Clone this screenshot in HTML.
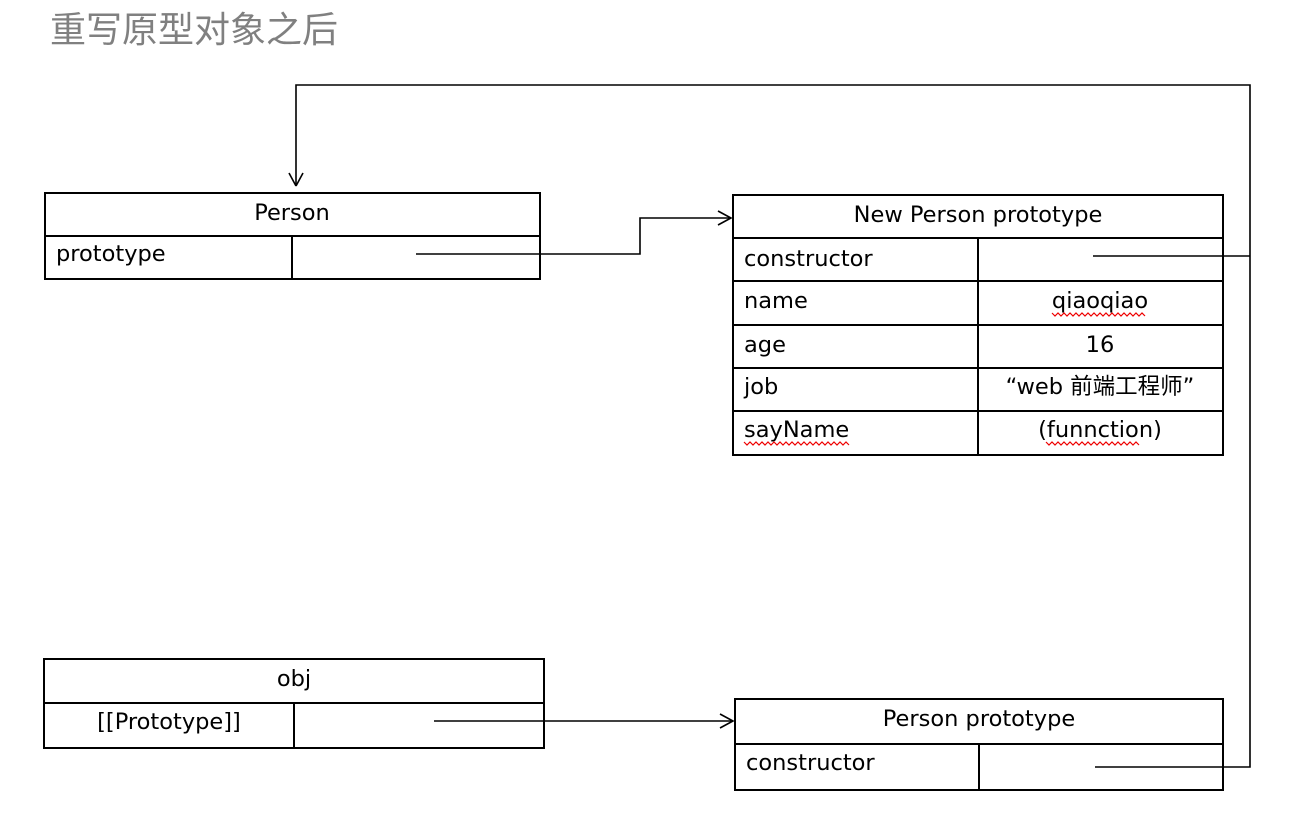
<!DOCTYPE html>
<html><head><meta charset="utf-8"><style>
html,body{margin:0;padding:0;background:#fff;width:1298px;height:820px;overflow:hidden}
svg{display:block}
text{font-family:"DejaVu Sans","Liberation Sans","Noto Sans CJK SC",sans-serif;font-size:22.5px;fill:#000}
.t{font-family:"Noto Sans CJK SC","WenQuanYi Zen Hei",sans-serif;font-size:36px;fill:#808080}
</style></head><body>
<svg width="1298" height="820" viewBox="0 0 1298 820" xmlns="http://www.w3.org/2000/svg">
<text class="t" x="50" y="42">重写原型对象之后</text>
<g fill="none" stroke="#000" stroke-width="2">
<rect x="45" y="193" width="495" height="86"/>
<line x1="45" y1="236" x2="540" y2="236"/>
<line x1="292" y1="236" x2="292" y2="279"/>
<rect x="733" y="195" width="490" height="260"/>
<line x1="733" y1="238" x2="1223" y2="238"/>
<line x1="733" y1="281" x2="1223" y2="281"/>
<line x1="733" y1="325" x2="1223" y2="325"/>
<line x1="733" y1="368" x2="1223" y2="368"/>
<line x1="733" y1="411" x2="1223" y2="411"/>
<line x1="978" y1="238" x2="978" y2="455"/>
<rect x="44" y="659" width="500" height="89"/>
<line x1="44" y1="703" x2="544" y2="703"/>
<line x1="294" y1="703" x2="294" y2="748"/>
<rect x="735" y="699" width="488" height="91"/>
<line x1="735" y1="744" x2="1223" y2="744"/>
<line x1="979" y1="744" x2="979" y2="790"/>
</g>
<g fill="none" stroke="#000" stroke-width="1.6">
<polyline points="296,186 296,85 1250,85 1250,767 1095,767"/>
<line x1="1093" y1="256" x2="1250" y2="256"/>
<polyline points="296,186 289,173"/><polyline points="296,186 303,173"/>
<polyline points="416,254 640,254 640,218 731,218"/>
<polyline points="718,211 731,218 718,225"/>
<line x1="434" y1="721" x2="733" y2="721"/>
<polyline points="720,714 733,721 720,728"/>
</g>
<text x="292" y="220" text-anchor="middle">Person</text>
<text x="56" y="261">prototype</text>
<text x="978" y="222" text-anchor="middle">New Person prototype</text>
<text x="744" y="266">constructor</text>
<text x="744" y="308">name</text>
<text x="1100" y="308" text-anchor="middle">qiaoqiao</text>
<text x="744" y="352">age</text>
<text x="1100" y="352" text-anchor="middle">16</text>
<text x="744" y="394">job</text>
<text x="1100" y="394" text-anchor="middle">“web  前端工程师”</text>
<text x="744" y="437">sayName</text>
<text x="1100" y="437" text-anchor="middle">(funnction)</text>
<text x="294" y="686" text-anchor="middle">obj</text>
<text x="169" y="729" text-anchor="middle">[[Prototype]]</text>
<text x="979" y="726" text-anchor="middle">Person prototype</text>
<text x="746" y="770">constructor</text>
<g fill="none" stroke="#e00" stroke-width="1.2">
<path d="M1052 313 l3 3 3 -3 3 3 3 -3 3 3 3 -3 3 3 3 -3 3 3 3 -3 3 3 3 -3 3 3 3 -3 3 3 3 -3 3 3 3 -3 3 3 3 -3 3 3 3 -3 3 3 3 -3 3 3 3 -3 3 3 3 -3 3 3 3 -3 3 3"/>
<path d="M744 442 l3 3 3 -3 3 3 3 -3 3 3 3 -3 3 3 3 -3 3 3 3 -3 3 3 3 -3 3 3 3 -3 3 3 3 -3 3 3 3 -3 3 3 3 -3 3 3 3 -3 3 3 3 -3 3 3 3 -3 3 3 3 -3 3 3 3 -3 3 3 3 -3 3 3 3 -3 3 3"/>
<path d="M1046 442 l3 3 3 -3 3 3 3 -3 3 3 3 -3 3 3 3 -3 3 3 3 -3 3 3 3 -3 3 3 3 -3 3 3 3 -3 3 3 3 -3 3 3 3 -3 3 3 3 -3 3 3 3 -3 3 3 3 -3 3 3 3 -3 3 3 3 -3 3 3"/>
</g>
</svg>
</body></html>
